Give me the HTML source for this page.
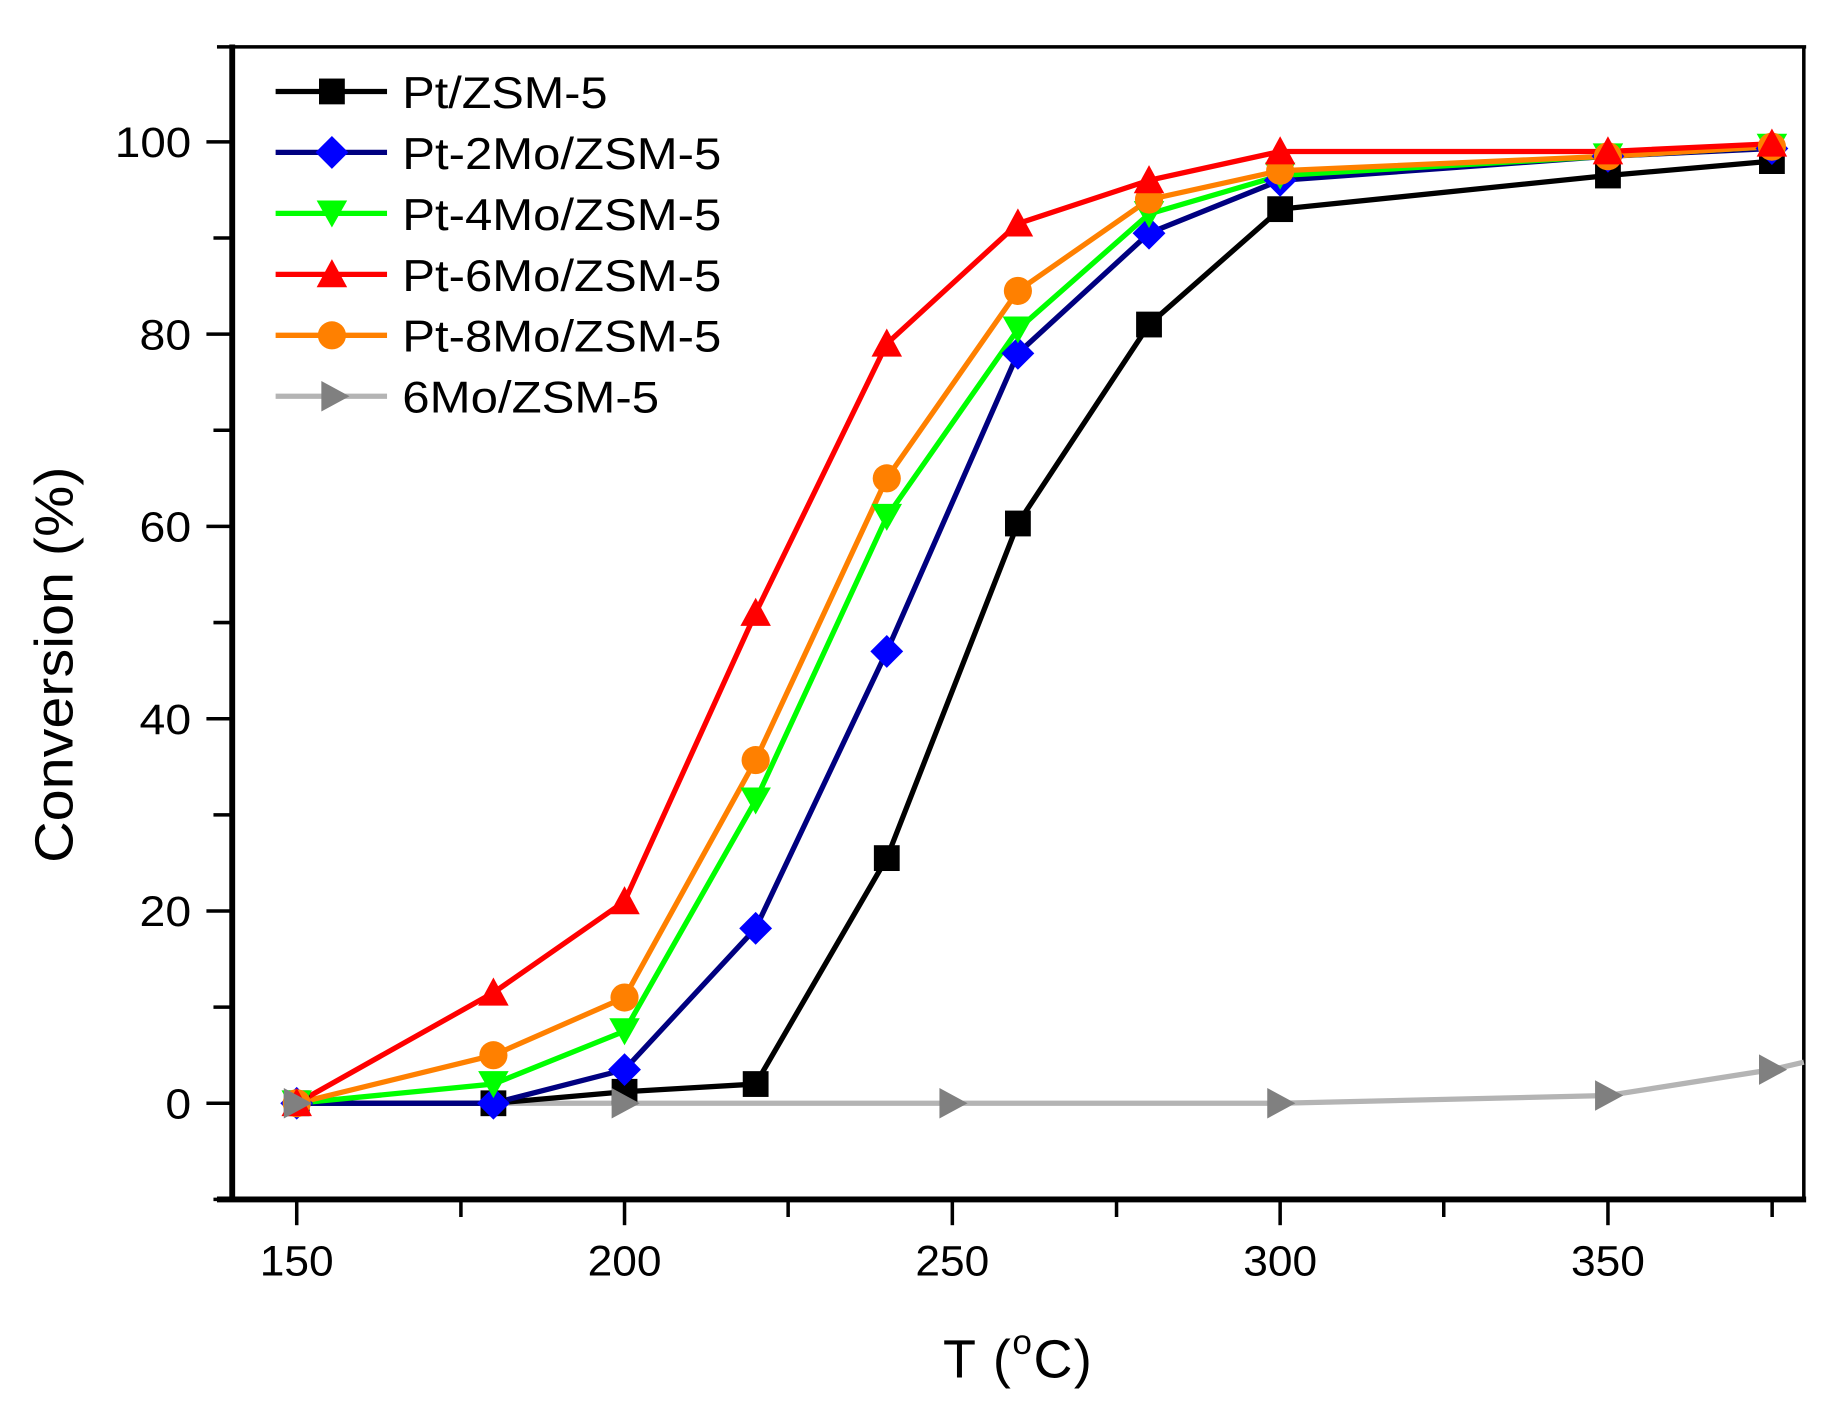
<!DOCTYPE html>
<html><head><meta charset="utf-8"><style>html,body{margin:0;padding:0;background:#fff}svg{display:block}</style></head>
<body>
<svg width="1839" height="1421" viewBox="0 0 1568 1212" preserveAspectRatio="none" xmlns="http://www.w3.org/2000/svg" font-family="Liberation Sans, Arial, sans-serif">
<defs>
<rect id="sq" x="-11" y="-11" width="22" height="22" fill="#000"/>
<polygon id="di" points="0,-14 14,0 0,14 -14,0" fill="#0000ff"/>
<polygon id="dn" points="-13,-11 13,-11 0,12" fill="#00ff00"/>
<polygon id="up" points="0,-13 13,11 -13,11" fill="#ff0000"/>
<circle id="ci" r="12" fill="#ff8000"/>
<polygon id="rt" points="-11,-13 13,0 -11,13" fill="#808080"/>
</defs>
<rect width="1568" height="1212" fill="#fff"/>
<line x1="185" y1="40" x2="1540" y2="40" stroke="#000" stroke-width="3"/>
<line x1="1538" y1="40" x2="1538" y2="1023" stroke="#000" stroke-width="3"/>
<line x1="198" y1="38" x2="198" y2="1025" stroke="#000" stroke-width="5"/>
<line x1="185" y1="1023" x2="1540" y2="1023" stroke="#000" stroke-width="5"/>
<g stroke="#000" stroke-width="3">
<line x1="176" y1="121" x2="198" y2="121"/><line x1="182" y1="203" x2="198" y2="203"/>
<line x1="176" y1="285" x2="198" y2="285"/><line x1="182" y1="367" x2="198" y2="367"/>
<line x1="176" y1="449" x2="198" y2="449"/><line x1="182" y1="531" x2="198" y2="531"/>
<line x1="176" y1="613" x2="198" y2="613"/><line x1="182" y1="695" x2="198" y2="695"/>
<line x1="176" y1="777" x2="198" y2="777"/><line x1="182" y1="859" x2="198" y2="859"/>
<line x1="176" y1="941" x2="198" y2="941"/><line x1="182" y1="1023" x2="198" y2="1023"/>
<line x1="253" y1="1023" x2="253" y2="1045"/><line x1="393" y1="1023" x2="393" y2="1038"/>
<line x1="532.5" y1="1023" x2="532.5" y2="1045"/><line x1="672" y1="1023" x2="672" y2="1038"/>
<line x1="812" y1="1023" x2="812" y2="1045"/><line x1="952" y1="1023" x2="952" y2="1038"/>
<line x1="1091.5" y1="1023" x2="1091.5" y2="1045"/><line x1="1231" y1="1023" x2="1231" y2="1038"/>
<line x1="1371" y1="1023" x2="1371" y2="1045"/><line x1="1511" y1="1023" x2="1511" y2="1038"/>
</g>
<g font-size="36" fill="#000" text-anchor="end">
<text x="163" y="134" textLength="65" lengthAdjust="spacingAndGlyphs">100</text>
<text x="163" y="298" textLength="44" lengthAdjust="spacingAndGlyphs">80</text>
<text x="163" y="462" textLength="44" lengthAdjust="spacingAndGlyphs">60</text>
<text x="163" y="626" textLength="44" lengthAdjust="spacingAndGlyphs">40</text>
<text x="163" y="790" textLength="44" lengthAdjust="spacingAndGlyphs">20</text>
<text x="163" y="954" textLength="22" lengthAdjust="spacingAndGlyphs">0</text>
</g>
<g font-size="36" fill="#000" text-anchor="middle">
<text x="253" y="1088" textLength="63" lengthAdjust="spacingAndGlyphs">150</text>
<text x="532.5" y="1088" textLength="63" lengthAdjust="spacingAndGlyphs">200</text>
<text x="812" y="1088" textLength="63" lengthAdjust="spacingAndGlyphs">250</text>
<text x="1091.5" y="1088" textLength="63" lengthAdjust="spacingAndGlyphs">300</text>
<text x="1371" y="1088" textLength="63" lengthAdjust="spacingAndGlyphs">350</text>
</g>
<text x="804" y="1175" font-size="46" textLength="127">T (<tspan font-size="30" dy="-20">o</tspan><tspan dy="20">C)</tspan></text>
<text transform="translate(62,736) rotate(-90)" font-size="46" textLength="338" lengthAdjust="spacingAndGlyphs">Conversion (%)</text>
<g fill="none" stroke-width="4.5">
<polyline stroke="#b4b4b4" points="253,941 532.5,941 812,941 1091.5,941 1371,934.4 1510.8,912.3 1538,906"/>
<polyline stroke="#000" points="253,941 420.7,941 532.5,931.2 644.3,924.6 756.1,731.9 867.9,446.5 979.7,276.8 1091.5,178.4 1371,149.7 1510.8,137.4"/>
<polyline stroke="#000080" points="253,941 420.7,941 532.5,912.3 644.3,791.8 756.1,555.6 867.9,301.4 979.7,198.9 1091.5,153.8 1371,133.3 1510.8,126.7"/>
<polyline stroke="#00ff00" points="253,941 420.7,924.6 532.5,879.5 644.3,682.7 756.1,440.8 867.9,280.9 979.7,182.5 1091.5,149.7 1371,133.3 1510.8,125.1"/>
<polyline stroke="#ff8000" points="253,941 420.7,900 532.5,850.8 644.3,648.3 756.1,408 867.9,248.1 979.7,170.2 1091.5,145.6 1371,133.3 1510.8,125.1"/>
<polyline stroke="#ff0000" points="253,941 420.7,846.7 532.5,768.8 644.3,522.8 756.1,293.2 867.9,190.7 979.7,153.8 1091.5,129.2 1371,129.2 1510.8,122.6"/>
</g>
<g>
<use href="#sq" x="253" y="941"/><use href="#sq" x="420.7" y="941"/><use href="#sq" x="532.5" y="931.2"/><use href="#sq" x="644.3" y="924.6"/><use href="#sq" x="756.1" y="731.9"/><use href="#sq" x="867.9" y="446.5"/><use href="#sq" x="979.7" y="276.8"/><use href="#sq" x="1091.5" y="178.4"/><use href="#sq" x="1371" y="149.7"/><use href="#sq" x="1510.8" y="137.4"/>
<use href="#di" x="253" y="941"/><use href="#di" x="420.7" y="941"/><use href="#di" x="532.5" y="912.3"/><use href="#di" x="644.3" y="791.8"/><use href="#di" x="756.1" y="555.6"/><use href="#di" x="867.9" y="301.4"/><use href="#di" x="979.7" y="198.9"/><use href="#di" x="1091.5" y="153.8"/><use href="#di" x="1371" y="133.3"/><use href="#di" x="1510.8" y="126.7"/>
<use href="#dn" x="253" y="941"/><use href="#dn" x="420.7" y="924.6"/><use href="#dn" x="532.5" y="879.5"/><use href="#dn" x="644.3" y="682.7"/><use href="#dn" x="756.1" y="440.8"/><use href="#dn" x="867.9" y="280.9"/><use href="#dn" x="979.7" y="182.5"/><use href="#dn" x="1091.5" y="149.7"/><use href="#dn" x="1371" y="133.3"/><use href="#dn" x="1510.8" y="125.1"/>
<use href="#ci" x="253" y="941"/><use href="#ci" x="420.7" y="900"/><use href="#ci" x="532.5" y="850.8"/><use href="#ci" x="644.3" y="648.3"/><use href="#ci" x="756.1" y="408"/><use href="#ci" x="867.9" y="248.1"/><use href="#ci" x="979.7" y="170.2"/><use href="#ci" x="1091.5" y="145.6"/><use href="#ci" x="1371" y="133.3"/><use href="#ci" x="1510.8" y="125.1"/>
<use href="#up" x="253" y="941"/><use href="#up" x="420.7" y="846.7"/><use href="#up" x="532.5" y="768.8"/><use href="#up" x="644.3" y="522.8"/><use href="#up" x="756.1" y="293.2"/><use href="#up" x="867.9" y="190.7"/><use href="#up" x="979.7" y="153.8"/><use href="#up" x="1091.5" y="129.2"/><use href="#up" x="1371" y="129.2"/><use href="#up" x="1510.8" y="122.6"/>
<use href="#rt" x="253" y="941"/><use href="#rt" x="532.5" y="941"/><use href="#rt" x="812" y="941"/><use href="#rt" x="1091.5" y="941"/><use href="#rt" x="1371" y="934.4"/><use href="#rt" x="1510.8" y="912.3"/>
</g>
<g stroke-width="4.5">
<line x1="235" y1="78" x2="330" y2="78" stroke="#000"/>
<line x1="235" y1="130" x2="330" y2="130" stroke="#000080"/>
<line x1="235" y1="182" x2="330" y2="182" stroke="#00ff00"/>
<line x1="235" y1="234" x2="330" y2="234" stroke="#ff0000"/>
<line x1="235" y1="286" x2="330" y2="286" stroke="#ff8000"/>
<line x1="235" y1="338" x2="330" y2="338" stroke="#b4b4b4"/>
</g>
<use href="#sq" x="283" y="78"/><use href="#di" x="283" y="130"/><use href="#dn" x="283" y="182"/>
<use href="#up" x="283" y="234"/><use href="#ci" x="283" y="286"/><use href="#rt" x="285" y="338"/>
<g font-size="38" fill="#000" lengthAdjust="spacingAndGlyphs">
<text x="343" y="92" textLength="175" lengthAdjust="spacingAndGlyphs">Pt/ZSM-5</text>
<text x="343" y="144" textLength="272" lengthAdjust="spacingAndGlyphs">Pt-2Mo/ZSM-5</text>
<text x="343" y="196" textLength="272" lengthAdjust="spacingAndGlyphs">Pt-4Mo/ZSM-5</text>
<text x="343" y="248" textLength="272" lengthAdjust="spacingAndGlyphs">Pt-6Mo/ZSM-5</text>
<text x="343" y="300" textLength="272" lengthAdjust="spacingAndGlyphs">Pt-8Mo/ZSM-5</text>
<text x="343" y="352" textLength="219" lengthAdjust="spacingAndGlyphs">6Mo/ZSM-5</text>
</g>
</svg>
</body></html>
